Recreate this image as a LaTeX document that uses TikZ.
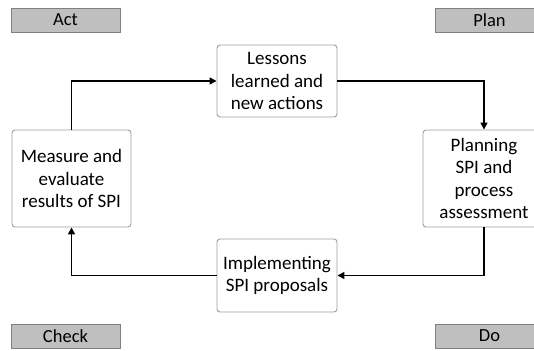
\documentclass[tikz,border=0pt]{standalone}
\usepackage{fontspec}
\setmainfont{Carlito}
\usetikzlibrary{arrows.meta}
\begin{document}
\begin{tikzpicture}[x=1pt,y=-1pt,
  stepbox/.style={draw=black!38, line width=0.9pt, rounded corners=3pt, fill=white,
    align=center, inner sep=0pt, font=\fontsize{19}{22.5}\selectfont},
  phase/.style={draw=black!50, line width=0.9pt, fill=black!25, minimum width=109pt,
    minimum height=24pt, inner sep=0pt, font=\fontsize{18.5}{20}\selectfont},
  flow/.style={line width=1.5pt, -{Triangle[length=7pt,width=7pt]}}]
\useasboundingbox (0,0) rectangle (534,350);
\node[phase] (act) at (65.5,20) {Act};
\node[phase] (plan) at (489.5,20) {Plan};
\node[phase] (check) at (65.5,336) {Check};
\node[phase] (do) at (489.5,336) {Do};
\node[stepbox, minimum width=120pt, minimum height=72pt] (less) at (277,81) {Lessons\\learned and\\new actions};
\node[stepbox, minimum width=122pt, minimum height=97pt] (planning) at (484,178.5) {Planning\\SPI and\\process\\assessment};
\node[stepbox, minimum width=119pt, minimum height=97pt] (meas) at (71.5,178.5) {Measure and\\evaluate\\results of SPI};
\node[stepbox, minimum width=120pt, minimum height=73pt] (impl) at (277,275.5) {Implementing\\SPI proposals};
\draw[flow] (meas.north) |- (less.west);
\draw[flow] (less.east) -| (planning.north);
\draw[flow] (planning.south) |- (impl.east);
\draw[flow] (impl.west) -| (meas.south);
\end{tikzpicture}
\end{document}
